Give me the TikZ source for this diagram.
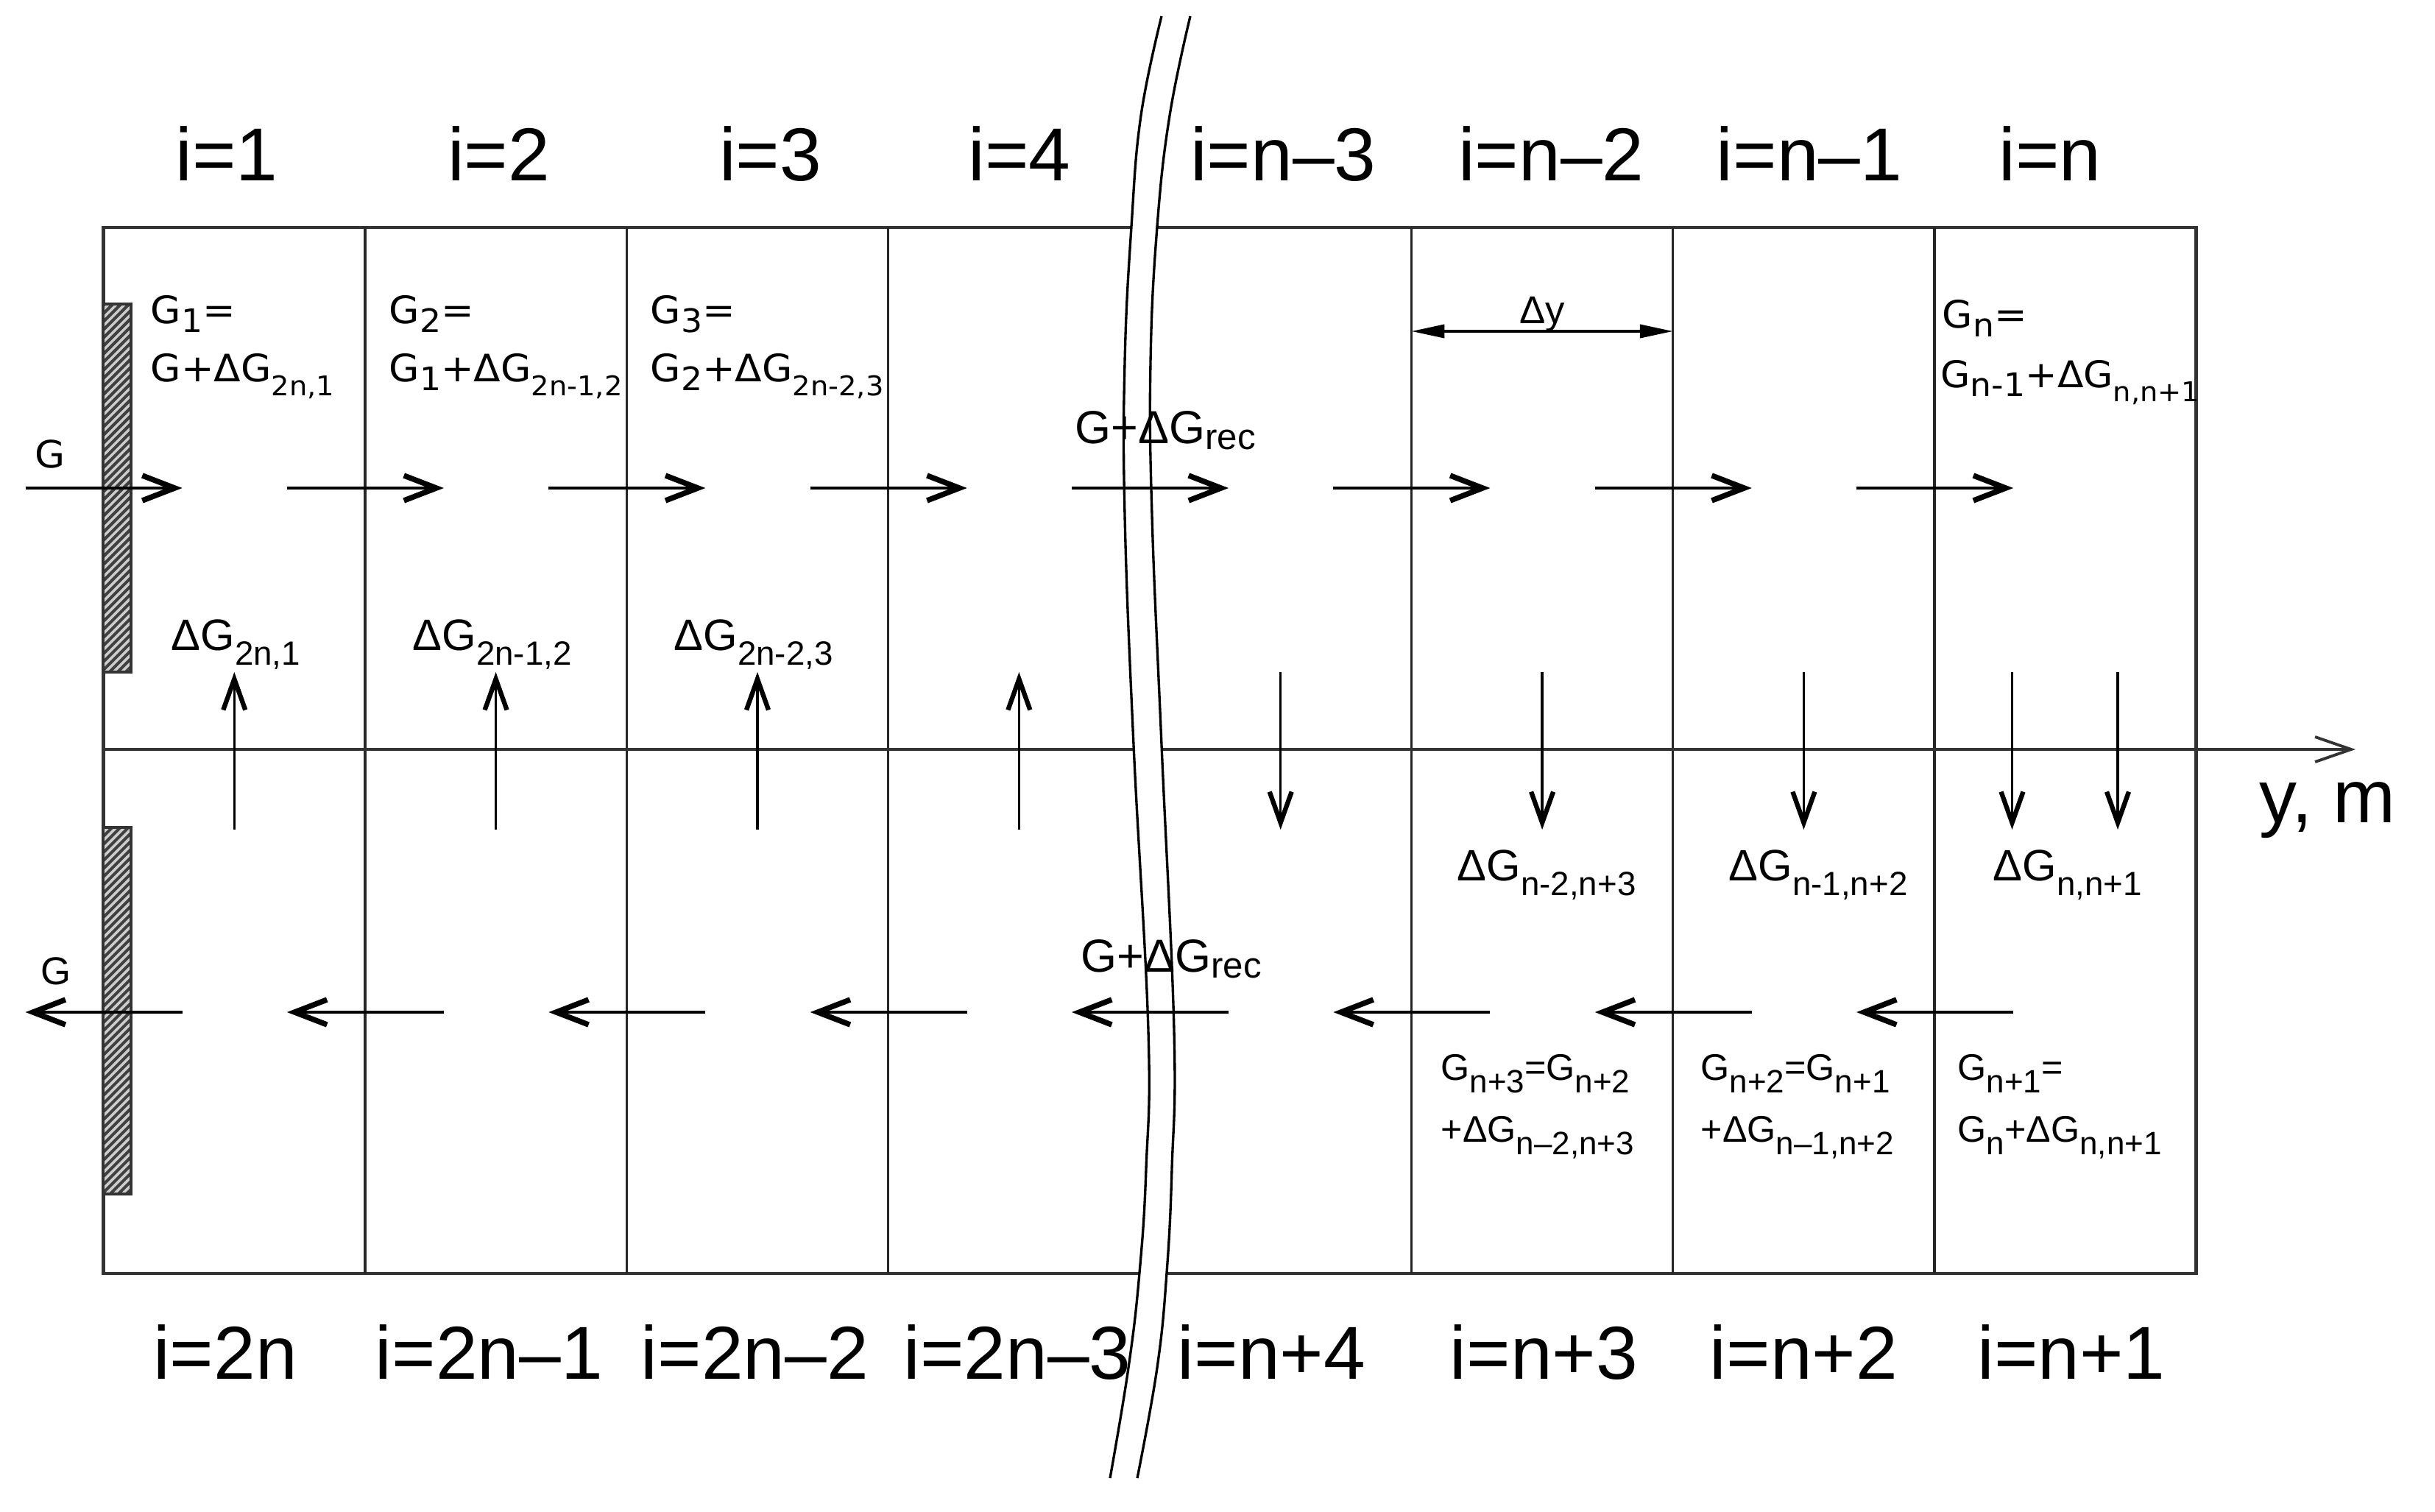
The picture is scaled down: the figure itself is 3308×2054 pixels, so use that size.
\documentclass[tikz,border=0pt]{standalone}
\usepackage{fontspec}
\setmainfont{Liberation Sans}
\newfontfamily\dvfont[FakeStretch=1.04]{DejaVu Sans}
\usetikzlibrary{arrows.meta}
\newcommand{\subG}[1]{\raisebox{-0.12cm}{\fontsize{12.5}{12.5}\selectfont #1}}
\newcommand{\subD}[1]{\raisebox{-0.19cm}{\fontsize{10.5}{10.5}\selectfont #1}}
\newcommand{\subA}[1]{\raisebox{-0.17cm}{\fontsize{12.5}{12.5}\selectfont #1}}
\newcommand{\subB}[1]{\raisebox{-0.2cm}{\fontsize{13}{13}\selectfont #1}}
\newcommand{\subR}[1]{\raisebox{-0.08cm}{\fontsize{14}{14}\selectfont #1}}
\begin{document}
\begin{tikzpicture}[x=0.01cm,y=-0.01cm,
  gridline/.style={line width=0.95pt, draw=black!85},
  outer/.style={line width=1.2pt, draw=black!80},
  flowarrow/.style={line width=1pt, -{Straight Barb[length=0.44cm,width=0.34cm,line width=2.1pt]}},
  vertarrow/.style={line width=1pt, -{Straight Barb[length=0.42cm,width=0.3cm,line width=1.8pt]}},
  axisarrow/.style={line width=1.1pt, draw=black!80, -{Straight Barb[length=0.49cm,width=0.34cm,line width=1.1pt]}},
  dimarrow/.style={line width=1.1pt, {Triangle[length=0.45cm,width=0.18cm]}-{Triangle[length=0.45cm,width=0.18cm]}},
  breakline/.style={line width=0.95pt, draw=black},
  bignum/.style={font=\fontsize{29}{34}\selectfont, inner sep=0pt, anchor=base},
  ulab/.style={font=\dvfont\fontsize{14.6}{17}\selectfont, inner sep=0pt, anchor=base west},
  dlab/.style={font=\fontsize{17}{20}\selectfont, inner sep=0pt, anchor=base west},
  rlab/.style={font=\fontsize{14.3}{17}\selectfont, inner sep=0pt, anchor=base west},
  reclab/.style={font=\fontsize{17.9}{20}\selectfont, inner sep=0pt, anchor=base west}]
\useasboundingbox (0,0) rectangle (3308,2054);

% column boundaries
\foreach \k in {0,...,8}{
  \pgfmathsetmacro\xb{140.6+\k*355.36}
  \coordinate (bt\k) at (\xb,308.7);
  \coordinate (bb\k) at (\xb,1729.6);
}
\draw[outer] (bt0) rectangle (bb8);
\foreach \k in {1,2,3,5,6,7} \draw[gridline] (bt\k) -- (bb\k);

% axis
\coordinate (ax0) at (140.6,1018);
\coordinate (axtip) at (3200,1018);
\draw[axisarrow] (ax0) -- (axtip);

% break
\fill[white] plot[smooth, tension=0.7] coordinates {(1578,22) (1550,157) (1537,308) (1528,492) (1528,700) (1540,1012) (1560,1400) (1557,1588) (1548,1729) (1533,1858) (1508,2008)}
  -- plot[smooth, tension=0.7] coordinates {(1545,2008) (1572,1858) (1585,1729) (1592,1588) (1595,1400) (1578,1012) (1565,700) (1563,492) (1572,308) (1589,157) (1617,22)} -- cycle;
\draw[breakline] plot[smooth, tension=0.7] coordinates {(1578,22) (1550,157) (1537,308) (1528,492) (1528,700) (1540,1012) (1560,1400) (1557,1588) (1548,1729) (1533,1858) (1508,2008)};
\draw[breakline] plot[smooth, tension=0.7] coordinates {(1617,22) (1589,157) (1572,308) (1563,492) (1565,700) (1578,1012) (1595,1400) (1592,1588) (1585,1729) (1572,1858) (1545,2008)};

% hatched walls
\begin{scope}
  \clip (140.6,413) rectangle (178,913);
  \fill[black!75] (140.6,413) rectangle (178,913);
  \foreach \yy in {420,431,...,980} \draw[white!80!black, line width=1pt] (130,\yy) -- ++(60,-60);
\end{scope}
\draw[line width=1pt, black!80] (140.6,413) rectangle (178,913);
\begin{scope}
  \clip (140.6,1124) rectangle (178,1622);
  \fill[black!75] (140.6,1124) rectangle (178,1622);
  \foreach \yy in {1130,1141,...,1690} \draw[white!80!black, line width=1pt] (130,\yy) -- ++(60,-60);
\end{scope}
\draw[line width=1pt, black!80] (140.6,1124) rectangle (178,1622);

% flow arrows
\foreach \k in {0,...,7}{
  \pgfmathsetmacro\xb{140.6+\k*355.36}
  \coordinate (ua\k) at (\xb-106,663);
  \coordinate (ub\k) at (\xb+107,663);
  \draw[flowarrow] (ua\k) -- (ub\k);
  \coordinate (la\k) at (\xb+107,1375);
  \coordinate (lb\k) at (\xb-106,1375);
  \draw[flowarrow] (la\k) -- (lb\k);
}

% vertical exchange arrows
\foreach \x [count=\j] in {318.3,673.6,1029,1384.4}{
  \coordinate (va\j) at (\x,1127);
  \coordinate (vb\j) at (\x,913);
  \draw[vertarrow] (va\j) -- (vb\j);
}
\foreach \x [count=\j] in {1739.7,2095.1,2450.4,2733.5,2877}{
  \coordinate (wa\j) at (\x,913);
  \coordinate (wb\j) at (\x,1127);
  \draw[vertarrow] (wa\j) -- (wb\j);
}

% dimension
\coordinate (dy1) at (1917.4,450);
\coordinate (dy2) at (2272.8,450);
\draw[dimarrow] (dy1) -- (dy2);
\node[font=\fontsize{15}{18}\selectfont, inner sep=0pt, anchor=base] (dylab) at (2095,439) {Δy};

% index labels
\foreach \t/\x [count=\j] in {i=1/308, i=2/677.5, i=3/1046.5, i=4/1385, i=n–3/1743.5, i=n–2/2107.5, i=n–1/2458, i=n/2785}
  \node[bignum] (top\j) at (\x,245) {\t};
\foreach \t/\x [count=\j] in {i=2n/306, i=2n–1/664.5, i=2n–2/1025.5, i=2n–3/1382, i=n+4/1727.5, i=n+3/2097.5, i=n+2/2450.5, i=n+1/2814}
  \node[bignum] (bot\j) at (\x,1873) {\t};
\node[font=\fontsize{29}{34}\selectfont, inner sep=0pt, anchor=base west] (ym) at (3069,1117) {y, m};

% inlet / outlet
\node[font=\dvfont\fontsize{14.5}{17}\selectfont, inner sep=0pt, anchor=base west] (gin) at (47,635) {G};
\node[font=\fontsize{15}{18}\selectfont, inner sep=0pt, anchor=base west] (gout) at (55,1337) {G};

% upper cell labels
\node[ulab] (g1a) at (204,439) {G\subG{1}=};
\node[ulab] (g1b) at (204,518) {G+ΔG\subD{2n,1}};
\node[ulab] (g2a) at (528,439) {G\subG{2}=};
\node[ulab] (g2b) at (528,518) {G\subG{1}+ΔG\subD{2n-1,2}};
\node[ulab] (g3a) at (883,439) {G\subG{3}=};
\node[ulab] (g3b) at (883,518) {G\subG{2}+ΔG\subD{2n-2,3}};
\node[ulab] (gna) at (2638,445) {G\subG{n}=};
\node[ulab, font=\dvfont\fontsize{14.2}{17}\selectfont] (gnb) at (2636,526) {G\subG{n-1}+ΔG\subD{n,n+1}};

% recirculation labels
\node[reclab] (rec1) at (1460,602) {G+ΔG\subR{rec}};
\node[reclab] (rec2) at (1468,1320) {G+ΔG\subR{rec}};

% exchange labels
\node[dlab] (d1) at (232,883) {ΔG\subB{2n,1}};
\node[dlab] (d2) at (560,883) {ΔG\subB{2n-1,2}};
\node[dlab] (d3) at (915,883) {ΔG\subB{2n-2,3}};
\node[dlab] (d4) at (1979,1196) {ΔG\subB{n-2,n+3}};
\node[dlab] (d5) at (2348,1196) {ΔG\subB{n-1,n+2}};
\node[dlab] (d6) at (2707,1196) {ΔG\subB{n,n+1}};

% lower cell labels
\node[rlab] (h1a) at (1957,1467) {G\subA{n+3}=G\subA{n+2}};
\node[rlab] (h1b) at (1957,1551) {+ΔG\subA{n–2,n+3}};
\node[rlab] (h2a) at (2310,1467) {G\subA{n+2}=G\subA{n+1}};
\node[rlab] (h2b) at (2310,1551) {+ΔG\subA{n–1,n+2}};
\node[rlab] (h3a) at (2659,1467) {G\subA{n+1}=};
\node[rlab] (h3b) at (2659,1551) {G\subA{n}+ΔG\subA{n,n+1}};
\end{tikzpicture}
\end{document}
